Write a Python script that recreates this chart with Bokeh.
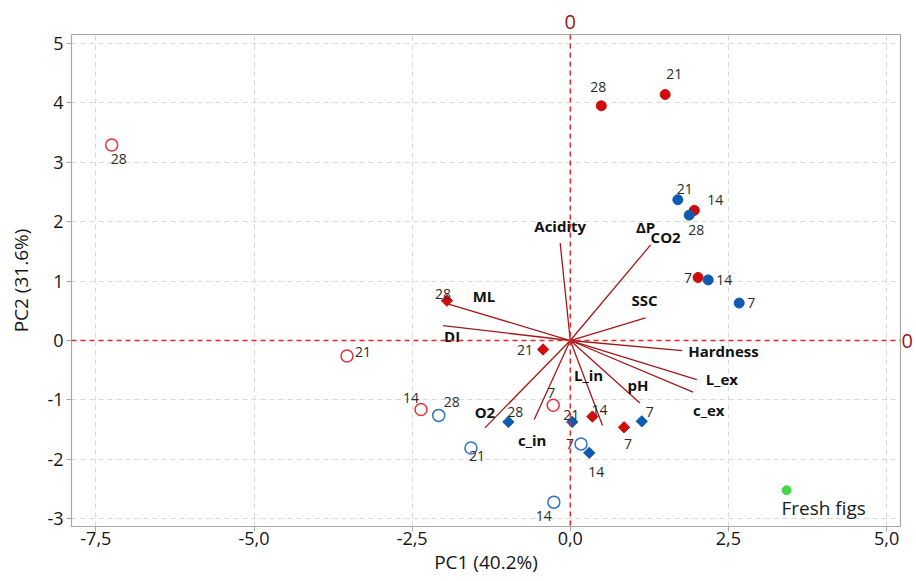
import math
from bokeh.plotting import figure
from bokeh.models import ColumnDataSource, FixedTicker, Span, Range1d, LinearAxis
from bokeh.core.properties import value
from bokeh.embed import file_html
from bokeh.resources import INLINE

FONT = "Open Sans"

# ---- scores (PC1, PC2); storage days as labels ----
days = ["28", "21", "14", "7"]

open_red_pc1 = [-7.25, -3.53, -2.36, -0.27]
open_red_pc2 = [3.29, -0.26, -1.16, -1.09]

open_blue_pc1 = [-2.08, -1.57, -0.26, 0.17]
open_blue_pc2 = [-1.26, -1.81, -2.72, -1.74]

dia_red_pc1 = [-1.95, -0.43, 0.35, 0.85]
dia_red_pc2 = [0.67, -0.15, -1.28, -1.46]

dia_blue_pc1 = [-0.98, 0.03, 0.30, 1.13]
dia_blue_pc2 = [-1.37, -1.37, -1.89, -1.36]

dot_red_pc1 = [0.49, 1.50, 1.96, 2.02]
dot_red_pc2 = [3.95, 4.14, 2.19, 1.06]

dot_blue_pc1 = [1.88, 1.70, 2.18, 2.67]
dot_blue_pc2 = [2.11, 2.37, 1.02, 0.63]

fresh_pc1 = [3.42]
fresh_pc2 = [-2.52]
fresh_label = ["Fresh figs"]

# ---- loadings ----
variables = ["Acidity", "ΔP", "SSC", "ML", "DI", "Hardness", "L_ex", "c_ex", "pH", "L_in", "c_in", "O2"]
load_pc1 = [-0.16, 1.27, 1.19, -1.95, -2.01, 1.77, 2.00, 1.94, 1.10, 0.51, -0.57, -1.35]
load_pc2 = [1.64, 1.61, 0.38, 0.62, 0.25, -0.17, -0.66, -0.87, -1.05, -1.43, -1.33, -1.47]

x_ticks = [-7.5, -5.0, -2.5, 0.0, 2.5, 5.0]
x_tick_labels = ["-7,5", "-5,0", "-2,5", "0,0", "2,5", "5,0"]
y_ticks = [-3, -2, -1, 0, 1, 2, 3, 4, 5]
y_tick_labels = ["-3", "-2", "-1", "0", "1", "2", "3", "4", "5"]

# label offsets in screen pixels (dx, dy-down) per series, order of `days`
off_open_red = ([7, 16, -10, -2], [14, -4, -11, -12])
off_open_blue = ([13, 6, -10, -11], [-13, 8, 14, 0])
off_dia_red = ([-4, -18, 7, 4], [-7, 1, -7, 17])
off_dia_blue = ([7, -1, 7, 8], [-10, -7, 19, -9])
off_dot_red = ([-3, 9, 21, -10], [-19, -21, -10, 0])
off_dot_blue = ([7, 7, 16, 12], [15, -11, 0, 0])

# vector label placement: offsets (px) from vector tip, and alignment
vec_dx = [0, -5, -1, 37, 9, 6, 9, 0, -2, -14, -2, 0]
vec_dy = [-17, -18, -18, -8, 10, 0, -1, 18, -18, -50, 20, -16]
vec_align = ["center", "center", "center", "center", "center", "left", "left", "left",
             "center", "center", "center", "center"]

p = figure(width=915, height=581, output_backend="svg", toolbar_location=None,
           x_range=Range1d(-7.885, 5.22), y_range=Range1d(-3.13, 5.15),
           min_border_left=71, min_border_right=12, min_border_top=34, min_border_bottom=55)

p.background_fill_color = "white"
p.border_fill_color = "white"
p.outline_line_color = "#a8a8a8"
p.outline_line_width = 1.2

p.xaxis.ticker = FixedTicker(ticks=x_ticks)
p.yaxis.ticker = FixedTicker(ticks=y_ticks)
p.xaxis.major_label_overrides = {t: l for t, l in zip(x_ticks, x_tick_labels)}
p.yaxis.major_label_overrides = {t: l for t, l in zip(y_ticks, y_tick_labels)}
p.xaxis.axis_label = "PC1 (40.2%)"
p.yaxis.axis_label = "PC2 (31.6%)"
for ax in (p.xaxis, p.yaxis):
    ax.axis_line_color = "#a8a8a8"
    ax.major_tick_line_color = "#a8a8a8"
    ax.minor_tick_line_color = None
    ax.major_tick_out = 5
    ax.major_tick_in = 0
    ax.major_label_text_font = FONT
    ax.major_label_text_font_size = "18px"
    ax.major_label_text_color = "#151515"
    ax.axis_label_text_font = FONT
    ax.axis_label_text_font_size = "19px"
    ax.axis_label_text_font_style = "normal"
    ax.axis_label_text_color = "#151515"
p.xaxis.major_label_standoff = 0
p.xaxis.axis_label_standoff = 1
p.yaxis.major_label_standoff = 3
p.yaxis.axis_label_standoff = 10

p.grid.grid_line_color = "#d9d9d9"
p.grid.grid_line_dash = "5 4"
p.grid.grid_line_width = 1

# zero reference lines, with their "0" markers outside the frame
p.add_layout(Span(location=0, dimension="height", line_color="#e8262a", line_dash="5 4", line_width=1.5))
p.add_layout(Span(location=0, dimension="width", line_color="#e8262a", line_dash="5 4", line_width=1.5))
for loc in ("above", "right"):
    ax = LinearAxis(ticker=FixedTicker(ticks=[0]))
    ax.major_label_overrides = {0: "0"}
    ax.axis_line_color = None
    ax.major_tick_line_color = None
    ax.minor_tick_line_color = None
    ax.major_tick_out = 0
    ax.major_tick_in = 0
    ax.major_label_standoff = 6 if loc == "above" else 1
    ax.major_label_text_color = "#a01515"
    ax.major_label_text_font = FONT
    ax.major_label_text_font_size = "20px"
    p.add_layout(ax, loc)

# loading vectors
vsrc = ColumnDataSource(dict(x0=[0.0] * len(load_pc1), y0=[0.0] * len(load_pc1),
                             x1=load_pc1, y1=load_pc2, t=variables,
                             dx=vec_dx, dy=vec_dy, al=vec_align))
p.segment(x0="x0", y0="y0", x1="x1", y1="y1", source=vsrc, line_color="#a31818", line_width=1.3)
p.text(x="x1", y="y1", text="t", x_offset="dx", y_offset="dy", text_align="al",
       text_baseline="middle", source=vsrc, text_font=value(FONT), text_font_size="15px",
       text_font_style="bold", text_color="#111111")
# subscript part of the ΔP_CO2 label
i_dp = variables.index("ΔP")
p.text(x=[load_pc1[i_dp]], y=[load_pc2[i_dp]], text=["CO2"], x_offset=15, y_offset=-8,
       text_align="center", text_baseline="middle", text_font=value(FONT), text_font_size="15px",
       text_font_style="bold", text_color="#111111")


def series(xs, ys, offs, marker, size, fill, line, lw=1.5, angle=0.0):
    src = ColumnDataSource(dict(x=xs, y=ys, t=days, dx=offs[0], dy=offs[1]))
    p.scatter(x="x", y="y", source=src, marker=marker, size=size, fill_color=fill,
              line_color=line, line_width=lw, angle=angle)
    p.text(x="x", y="y", text="t", x_offset="dx", y_offset="dy", source=src,
           text_align="center", text_baseline="middle", text_font=value(FONT),
           text_font_size="14px", text_color="#2b2b2b")


RED = "#d10a0a"
BLUE = "#0f5bb0"
series(open_red_pc1, open_red_pc2, off_open_red, "circle", 12, None, "#e8303a")
series(open_blue_pc1, open_blue_pc2, off_open_blue, "circle", 12, None, "#2f73c6")
series(dia_red_pc1, dia_red_pc2, off_dia_red, "square", 8, RED, RED, 1, math.pi / 4)
series(dia_blue_pc1, dia_blue_pc2, off_dia_blue, "square", 8, BLUE, BLUE, 1, math.pi / 4)
series(dot_red_pc1, dot_red_pc2, off_dot_red, "circle", 10, RED, RED, 1)
series(dot_blue_pc1, dot_blue_pc2, off_dot_blue, "circle", 10, BLUE, BLUE, 1)

fsrc = ColumnDataSource(dict(x=fresh_pc1, y=fresh_pc2, t=fresh_label))
p.scatter(x="x", y="y", source=fsrc, marker="circle", size=9, fill_color="#44d844", line_color="#44d844")
p.text(x="x", y="y", text="t", x_offset=37, y_offset=18, source=fsrc, text_align="center",
       text_baseline="middle", text_font=value(FONT), text_font_size="19px", text_color="#1a1a1a")

open("out.html", "w").write(file_html(p, INLINE))
